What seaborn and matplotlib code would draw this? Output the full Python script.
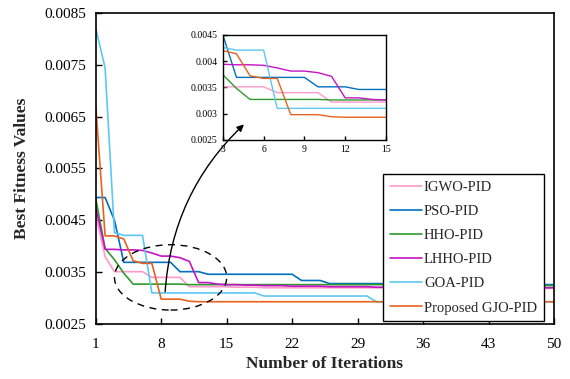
import matplotlib
matplotlib.use("Agg")
import matplotlib.pyplot as plt
from matplotlib.patches import Ellipse
import numpy as np
import pandas as pd
import seaborn as sns

# データ
iterations = list(range(1, 51))

igwo = [0.00460, 0.00380, 0.00351, 0.00351, 0.00351, 0.00351, 0.00340, 0.00340, 0.00340, 0.00340,
        0.00322, 0.00322, 0.00322, 0.00322, 0.00322, 0.00321, 0.00321, 0.00321, 0.00320, 0.00320,
        0.00320, 0.00320, 0.00320, 0.00320, 0.00320, 0.00320, 0.00320, 0.00320, 0.00320, 0.00320,
        0.00320, 0.00320, 0.00320, 0.00320, 0.00319, 0.00319, 0.00319, 0.00319, 0.00319, 0.00319,
        0.00319, 0.00319, 0.00319, 0.00319, 0.00319, 0.00319, 0.00319, 0.00319, 0.00319, 0.00319]
pso = [0.00494, 0.00494, 0.00450, 0.00369, 0.00369, 0.00369, 0.00369, 0.00369, 0.00369, 0.00351,
       0.00351, 0.00351, 0.00346, 0.00346, 0.00346, 0.00346, 0.00346, 0.00346, 0.00346, 0.00346,
       0.00346, 0.00346, 0.00334, 0.00334, 0.00334, 0.00328, 0.00328, 0.00328, 0.00328, 0.00328,
       0.00328, 0.00328, 0.00328, 0.00328, 0.00328, 0.00328, 0.00328, 0.00328, 0.00328, 0.00328,
       0.00327, 0.00327, 0.00327, 0.00327, 0.00327, 0.00326, 0.00326, 0.00326, 0.00326, 0.00326]
hho = [0.00492, 0.00396, 0.00374, 0.00348, 0.00327, 0.00327, 0.00327, 0.00327, 0.00327, 0.00327,
       0.00326, 0.00326, 0.00326, 0.00326, 0.00326, 0.00326, 0.00326, 0.00326, 0.00326, 0.00326,
       0.00326, 0.00326, 0.00326, 0.00326, 0.00326, 0.00326, 0.00326, 0.00326, 0.00326, 0.00326,
       0.00326, 0.00326, 0.00326, 0.00326, 0.00326, 0.00325, 0.00325, 0.00325, 0.00325, 0.00325,
       0.00325, 0.00325, 0.00325, 0.00325, 0.00325, 0.00324, 0.00324, 0.00324, 0.00324, 0.00324]
lhho = [0.00475, 0.00394, 0.00394, 0.00393, 0.00393, 0.00392, 0.00387, 0.00381, 0.00381, 0.00378,
        0.00371, 0.00330, 0.00330, 0.00327, 0.00326, 0.00326, 0.00325, 0.00325, 0.00324, 0.00324,
        0.00324, 0.00323, 0.00323, 0.00323, 0.00323, 0.00322, 0.00322, 0.00322, 0.00322, 0.00322,
        0.00321, 0.00321, 0.00321, 0.00321, 0.00321, 0.00321, 0.00321, 0.00320, 0.00320, 0.00320,
        0.00320, 0.00320, 0.00320, 0.00320, 0.00320, 0.00320, 0.00320, 0.00320, 0.00320, 0.00320]
goa = [0.00820, 0.00744, 0.00426, 0.00421, 0.00421, 0.00421, 0.00310, 0.00310, 0.00310, 0.00310,
       0.00310, 0.00310, 0.00310, 0.00310, 0.00310, 0.00310, 0.00310, 0.00310, 0.00304, 0.00304,
       0.00304, 0.00304, 0.00304, 0.00304, 0.00304, 0.00304, 0.00304, 0.00304, 0.00304, 0.00304,
       0.00293, 0.00293, 0.00293, 0.00293, 0.00293, 0.00293, 0.00293, 0.00293, 0.00293, 0.00293,
       0.00293, 0.00293, 0.00293, 0.00293, 0.00293, 0.00293, 0.00293, 0.00293, 0.00293, 0.00293]
gjo = [0.00670, 0.00420, 0.00420, 0.00414, 0.00372, 0.00367, 0.00367, 0.00298, 0.00298, 0.00298,
       0.00294, 0.00293, 0.00293, 0.00293, 0.00293, 0.00293, 0.00293, 0.00293, 0.00293, 0.00293,
       0.00293, 0.00293, 0.00293, 0.00293, 0.00293, 0.00293, 0.00293, 0.00293, 0.00293, 0.00293,
       0.00293, 0.00293, 0.00293, 0.00293, 0.00293, 0.00293, 0.00293, 0.00293, 0.00293, 0.00293,
       0.00293, 0.00293, 0.00293, 0.00293, 0.00293, 0.00293, 0.00293, 0.00293, 0.00293, 0.00293]

labels = ["IGWO-PID", "PSO-PID", "HHO-PID", "LHHO-PID", "GOA-PID", "Proposed GJO-PID"]
colors = ["#ff99cc", "#0070c0", "#2e9b2e", "#c414c4", "#5cc8f2", "#e8621f"]

x_ticks = [1, 8, 15, 22, 29, 36, 43, 50]
y_ticks = [0.0025, 0.0035, 0.0045, 0.0055, 0.0065, 0.0075, 0.0085]
y_ticklabels = ["0.0025", "0.0035", "0.0045", "0.0055", "0.0065", "0.0075", "0.0085"]
in_x_ticks = [3, 6, 9, 12, 15]
in_y_ticks = [0.0025, 0.003, 0.0035, 0.004, 0.0045]
in_y_ticklabels = ["0.0025", "0.003", "0.0035", "0.004", "0.0045"]

# ロング形式のデータフレーム
series = [igwo, pso, hho, lhho, goa, gjo]
df = pd.concat(
    [pd.DataFrame({"Iteration": iterations, "Fitness": s, "Algorithm": name})
     for name, s in zip(labels, series)],
    ignore_index=True,
)
palette = dict(zip(labels, colors))

sns.set_theme(style="ticks")
plt.rcParams["font.family"] = ["Liberation Serif", "DejaVu Serif"]
plt.rcParams["xtick.direction"] = "in"
plt.rcParams["ytick.direction"] = "in"

fig = plt.figure(figsize=(5.7, 3.79), dpi=100)
ax = fig.add_axes([0.168, 0.145, 0.804, 0.821])

sns.lineplot(data=df, x="Iteration", y="Fitness", hue="Algorithm",
             palette=palette, linewidth=1.2, ax=ax)

ax.set_xlim(1, 50)
ax.set_ylim(0.0025, 0.0085)
ax.set_xticks(x_ticks)
ax.set_xticklabels([str(t) for t in x_ticks], fontsize=11)
ax.set_yticks(y_ticks)
ax.set_yticklabels(y_ticklabels, fontsize=11)
ax.tick_params(axis="x", length=4, width=1, colors="black", pad=10)
ax.tick_params(axis="y", length=4, width=1, colors="black", pad=7)
ax.set_xlabel("Number of Iterations", fontsize=12.5, fontweight="bold", labelpad=4)
ax.set_ylabel("Best Fitness Values", fontsize=12.5, fontweight="bold", labelpad=10)
for sp in ax.spines.values():
    sp.set_color("black")
    sp.set_linewidth(1.2)

leg = ax.legend(loc="upper left", bbox_to_anchor=(0.627, 0.482), fontsize=10.5,
                frameon=True, fancybox=False, edgecolor="black",
                labelspacing=0.75, handlelength=2.2, handletextpad=0.15,
                borderpad=0.45, borderaxespad=0)
leg.get_frame().set_linewidth(1.0)
leg.get_frame().set_alpha(1)

# 点線の楕円
ax.add_patch(Ellipse((9.0, 0.0034), 12.0, 0.00126, fill=False,
                     linestyle=(0, (5, 4)), edgecolor="black", linewidth=1.0, zorder=5))

# 拡大図
ax_in = fig.add_axes([0.391, 0.631, 0.286, 0.277])
sub = df[(df["Iteration"] >= 3) & (df["Iteration"] <= 15)]
sns.lineplot(data=sub, x="Iteration", y="Fitness", hue="Algorithm",
             palette=palette, linewidth=1.0, legend=False, ax=ax_in)
ax_in.set_xlim(3, 15)
ax_in.set_ylim(0.0025, 0.0045)
ax_in.set_xticks(in_x_ticks)
ax_in.set_xticklabels([str(t) for t in in_x_ticks], fontsize=7)
ax_in.set_yticks(in_y_ticks)
ax_in.set_yticklabels(in_y_ticklabels, fontsize=7)
ax_in.tick_params(length=3, width=1, colors="black", pad=4)
ax_in.set_xlabel("")
ax_in.set_ylabel("")
for sp in ax_in.spines.values():
    sp.set_color("black")
    sp.set_linewidth(1.0)

# 矢印
ax_in.annotate("", xy=(4.7, 0.00283), xycoords="data",
               xytext=(8.4, 0.00307), textcoords=ax.transData,
               arrowprops=dict(arrowstyle="-|>", color="black", lw=1.0,
                               connectionstyle="arc3,rad=-0.2", mutation_scale=10),
               annotation_clip=False)

plt.savefig("out.png", dpi=100)
